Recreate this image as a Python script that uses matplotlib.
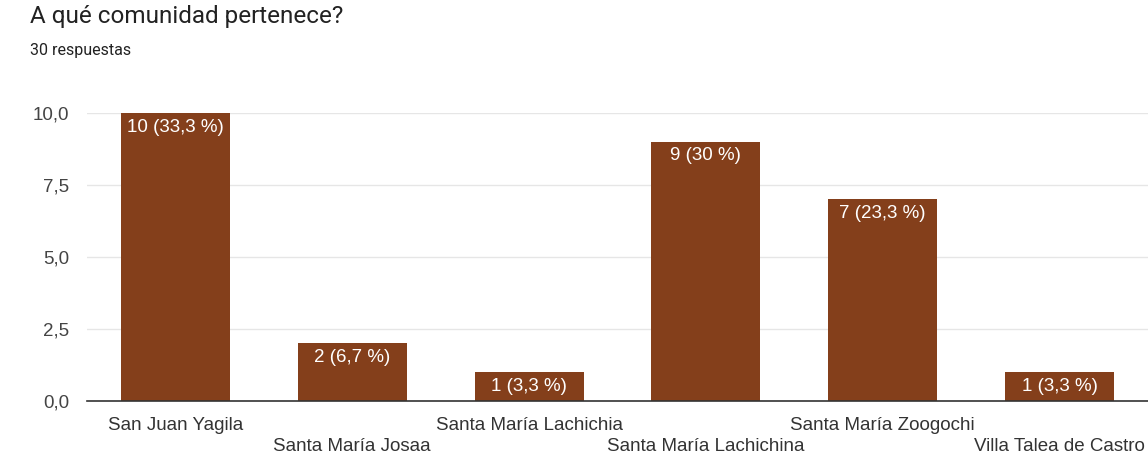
import matplotlib.pyplot as plt
from matplotlib.ticker import FuncFormatter

plt.rcParams['font.family'] = ['Liberation Sans', 'DejaVu Sans']

categories = [
    "San Juan Yagila",
    "Santa María Josaa",
    "Santa María Lachichia",
    "Santa María Lachichina",
    "Santa María Zoogochi",
    "Villa Talea de Castro",
]
counts = [10, 2, 1, 9, 7, 1]
labels = ["10 (33,3 %)", "2 (6,7 %)", "1 (3,3 %)", "9 (30 %)", "7 (23,3 %)", "1 (3,3 %)"]
yticks = [0, 2.5, 5, 7.5, 10]

W, H = 1148, 458
fig = plt.figure(figsize=(W / 100, H / 100), dpi=100)
ax = fig.add_axes([87 / W, 57 / H, 1061 / W, 288 / H])

x = list(range(len(categories)))
ax.bar(x, counts, width=0.616, color="#843f1b", zorder=3)

for xi, c, lab in zip(x, counts, labels):
    ax.annotate(lab, (xi, c), xytext=(0, -4), textcoords="offset points",
                ha="center", va="top", color="white", fontsize=13.5, zorder=4)

ax.set_xlim(-0.5, 5.5)
ax.set_ylim(0, 10)
ax.set_yticks(yticks)
ax.yaxis.set_major_formatter(FuncFormatter(lambda v, p: f"{v:.1f}".replace(".", ",")))
ax.grid(axis="y", color="#e6e6e6", linewidth=1, zorder=0)
ax.tick_params(axis="y", length=0, pad=13, labelsize=13.5, labelcolor="#444444")
ax.tick_params(axis="x", length=0)

# category names alternate between two rows, as in the original
ax.set_xticks(x)
ax.set_xticklabels(["" for _ in categories])
for xi, name in zip(x, categories):
    ax.annotate(name, (xi, 0), xytext=(0, -17.5 if xi % 2 == 0 else -33),
                textcoords="offset points", ha="center", va="center",
                fontsize=13.5, color="#333333", annotation_clip=False)

for s in ["top", "right", "left"]:
    ax.spines[s].set_visible(False)
ax.spines["bottom"].set_color("#333333")
ax.spines["bottom"].set_linewidth(1.2)
ax.spines["bottom"].set_zorder(5)

fig.text(30 / W, 1 - 17 / H, "A qué comunidad pertenece?", fontsize=17.5,
         family=["Roboto", "DejaVu Sans"], color="#222222", va="center", ha="left")
fig.text(30 / W, 1 - 50 / H, "30 respuestas", fontsize=11.5,
         family=["Roboto", "DejaVu Sans"], color="#222222", va="center", ha="left")

fig.savefig("out.png", dpi=100)
